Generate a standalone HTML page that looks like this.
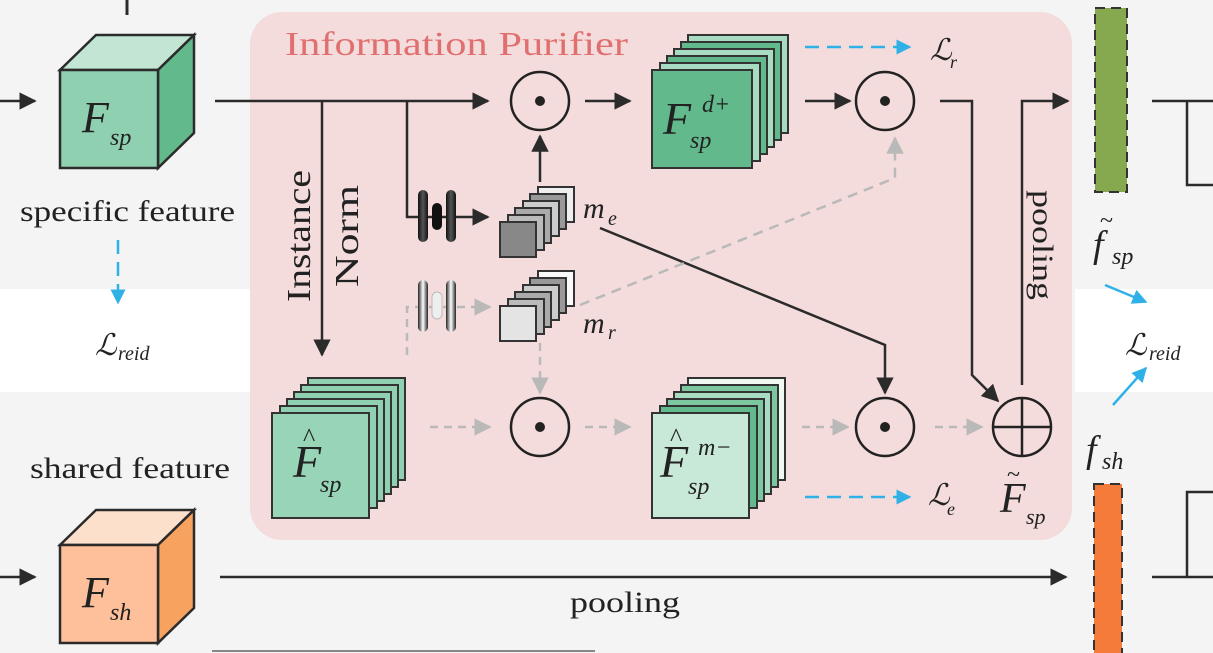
<!DOCTYPE html>
<html><head><meta charset="utf-8"><style>
html,body{margin:0;padding:0;background:#f4f4f4;}
svg{display:block;}
text{font-family:"Liberation Serif",serif;fill:#222;}
.it{font-style:italic;}
</style></head><body>
<svg width="1213" height="653" viewBox="0 0 1213 653" xmlns="http://www.w3.org/2000/svg">
<defs>
<marker id="ab" viewBox="0 0 10 10" refX="9" refY="5" markerWidth="7" markerHeight="7" orient="auto-start-reverse"><path d="M0,0 L10,5 L0,10 z" fill="#2b2b2b"/></marker>
<marker id="ag" viewBox="0 0 10 10" refX="9" refY="5" markerWidth="7" markerHeight="7" orient="auto"><path d="M0,0 L10,5 L0,10 z" fill="#b9b9b9"/></marker>
<marker id="abl" viewBox="0 0 10 10" refX="9" refY="5" markerWidth="6" markerHeight="6" orient="auto"><path d="M0,0 L10,5 L0,10 z" fill="#2fb0e6"/></marker>
<linearGradient id="pill" x1="0" x2="1"><stop offset="0" stop-color="#111"/><stop offset=".5" stop-color="#555"/><stop offset="1" stop-color="#111"/></linearGradient>
<linearGradient id="pillw" x1="0" x2="1"><stop offset="0" stop-color="#222"/><stop offset=".5" stop-color="#fff"/><stop offset="1" stop-color="#222"/></linearGradient>
</defs>
<rect width="1213" height="653" fill="#f4f4f4"/>
<rect x="0" y="289" width="250" height="103" fill="#fff"/>
<rect x="1075" y="289" width="138" height="103" fill="#fff"/>
<rect x="250" y="12" width="822" height="528" rx="32" fill="#f4dcdc"/>
<text x="285" y="55" font-size="34" textLength="343" lengthAdjust="spacingAndGlyphs" style="fill:#e07070">Information Purifier</text>

<line x1="127" y1="0" x2="127" y2="15" stroke="#2b2b2b" stroke-width="3"/>
<line x1="0" y1="101" x2="35" y2="101" stroke="#2b2b2b" stroke-width="2.5" marker-end="url(#ab)"/>
<polygon points="60,70 96,35 194,35 158,70" fill="#c3e6d4" stroke="#2b2b2b" stroke-width="2.5"/>
<polygon points="158,70 194,35 194,133 158,168" fill="#62b98b" stroke="#2b2b2b" stroke-width="2.5"/>
<rect x="60" y="70" width="98" height="98" fill="#8fd0b0" stroke="#2b2b2b" stroke-width="2.5"/>
<text x="82" y="132" font-size="44" class="it">F</text><text x="110" y="145" font-size="24" class="it">sp</text>
<text x="20" y="221" font-size="30" textLength="215" lengthAdjust="spacingAndGlyphs">specific feature</text>
<line x1="118" y1="240" x2="118" y2="303" stroke="#2fb0e6" stroke-width="2.5" stroke-dasharray="14,8" marker-end="url(#abl)"/>
<text x="95" y="355" font-size="30" class="it">ℒ</text><text x="118" y="360" font-size="20" class="it">reid</text>

<line x1="215" y1="101" x2="488" y2="101" stroke="#2b2b2b" stroke-width="2.5" marker-end="url(#ab)"/>
<line x1="322" y1="101" x2="322" y2="355" stroke="#2b2b2b" stroke-width="2.5" marker-end="url(#ab)"/>
<text transform="translate(310,302) rotate(-90)" font-size="34" textLength="132" lengthAdjust="spacingAndGlyphs">Instance</text>
<text transform="translate(358,287) rotate(-90)" font-size="34" textLength="102" lengthAdjust="spacingAndGlyphs">Norm</text>
<polyline points="407,101 407,217 488,217" fill="none" stroke="#2b2b2b" stroke-width="2.5" marker-end="url(#ab)"/>
<rect x="418" y="190" width="10" height="52" rx="5" fill="url(#pill)"/>
<rect x="432" y="203" width="10" height="27" rx="5" fill="#111"/>
<rect x="446" y="190" width="10" height="52" rx="5" fill="url(#pill)"/>
<polyline points="407,355 407,307 490,307" fill="none" stroke="#b9b9b9" stroke-width="2.5" stroke-dasharray="8,6" marker-end="url(#ag)"/>
<rect x="418" y="280" width="10" height="52" rx="5" fill="url(#pillw)"/>
<rect x="432" y="292" width="10" height="27" rx="5" fill="#eee" stroke="#bbb"/>
<rect x="446" y="280" width="10" height="52" rx="5" fill="url(#pillw)"/>

<g stroke="#333" stroke-width="2">
<rect x="538" y="187" width="36" height="35" fill="#eee"/>
<rect x="530" y="194" width="36" height="35" fill="#999"/>
<rect x="523" y="201" width="36" height="35" fill="#ccc"/>
<rect x="515" y="208" width="36" height="35" fill="#aaa"/>
<rect x="508" y="215" width="36" height="35" fill="#bbb"/>
<rect x="500" y="222" width="36" height="35" fill="#888"/>
</g>
<text x="583" y="218" font-size="30" class="it">m</text><text x="608" y="225" font-size="20" class="it">e</text>
<g stroke="#333" stroke-width="2">
<rect x="538" y="271" width="36" height="35" fill="#fafafa"/>
<rect x="530" y="278" width="36" height="35" fill="#999"/>
<rect x="523" y="285" width="36" height="35" fill="#ccc"/>
<rect x="515" y="292" width="36" height="35" fill="#aaa"/>
<rect x="508" y="299" width="36" height="35" fill="#bbb"/>
<rect x="500" y="306" width="36" height="35" fill="#e4e4e4"/>
</g>
<text x="583" y="333" font-size="30" class="it">m</text><text x="608" y="339" font-size="20" class="it">r</text>

<line x1="540" y1="182" x2="540" y2="136" stroke="#2b2b2b" stroke-width="2.5" marker-end="url(#ab)"/>
<line x1="540" y1="343" x2="540" y2="393" stroke="#b9b9b9" stroke-width="2.5" stroke-dasharray="8,6" marker-end="url(#ag)"/>

<g fill="none" stroke="#222" stroke-width="2.5">
<circle cx="540" cy="101" r="29"/><circle cx="885" cy="101" r="29"/>
<circle cx="540" cy="427" r="29"/><circle cx="885" cy="427" r="29"/>
<circle cx="1022" cy="427" r="29"/>
</g>
<g fill="#222"><circle cx="540" cy="101" r="5"/><circle cx="885" cy="101" r="5"/><circle cx="540" cy="427" r="5"/><circle cx="885" cy="427" r="5"/></g>
<line x1="993" y1="427" x2="1051" y2="427" stroke="#222" stroke-width="2.5"/>
<line x1="1022" y1="398" x2="1022" y2="456" stroke="#222" stroke-width="2.5"/>

<line x1="585" y1="101" x2="630" y2="101" stroke="#2b2b2b" stroke-width="2.5" marker-end="url(#ab)"/>
<g stroke="#333" stroke-width="2">
<rect x="688" y="35" width="100" height="98" fill="#a8dcc2"/>
<rect x="681" y="42" width="100" height="98" fill="#62b98b"/>
<rect x="674" y="49" width="100" height="98" fill="#a8dcc2"/>
<rect x="667" y="56" width="100" height="98" fill="#62b98b"/>
<rect x="660" y="63" width="100" height="98" fill="#a8dcc2"/>
<rect x="652" y="70" width="100" height="98" fill="#62b98b"/>
</g>
<text x="663" y="134" font-size="46" class="it">F</text><text x="690" y="148" font-size="24" class="it">sp</text><text x="702" y="112" font-size="24" class="it">d+</text>

<line x1="805" y1="47" x2="910" y2="47" stroke="#2fb0e6" stroke-width="2.5" stroke-dasharray="14,8" marker-end="url(#abl)"/>
<text x="930" y="60" font-size="30" class="it">ℒ</text><text x="950" y="68" font-size="18" class="it">r</text>
<line x1="805" y1="101" x2="850" y2="101" stroke="#2b2b2b" stroke-width="2.5" marker-end="url(#ab)"/>

<polyline points="600,228 885,345 885,393" fill="none" stroke="#2b2b2b" stroke-width="2.5" marker-end="url(#ab)"/>
<polyline points="580,305 895,178 895,138" fill="none" stroke="#b9b9b9" stroke-width="2.5" stroke-dasharray="10,7" marker-end="url(#ag)"/>

<polyline points="940,101 972,101 972,375 998,401" fill="none" stroke="#2b2b2b" stroke-width="2.5" marker-end="url(#ab)"/>
<polyline points="1022,385 1022,101 1068,101" fill="none" stroke="#2b2b2b" stroke-width="2.5" marker-end="url(#ab)"/>
<text transform="translate(1033,190) rotate(90)" font-size="30" textLength="110" lengthAdjust="spacingAndGlyphs">pooling</text>

<g stroke="#333" stroke-width="2">
<rect x="308" y="378" width="97" height="102" fill="#8fd0b0"/>
<rect x="301" y="385" width="97" height="102" fill="#8fd0b0"/>
<rect x="294" y="392" width="97" height="102" fill="#8fd0b0"/>
<rect x="287" y="399" width="97" height="102" fill="#8fd0b0"/>
<rect x="280" y="406" width="97" height="102" fill="#8fd0b0"/>
<rect x="272" y="413" width="97" height="105" fill="#98d4b6"/>
</g>
<text x="293" y="477" font-size="46" class="it">F</text><text x="303" y="446" font-size="26">^</text><text x="320" y="492" font-size="24" class="it">sp</text>

<g stroke="#333" stroke-width="2">
<rect x="688" y="378" width="97" height="102" fill="#f0f8f2"/>
<rect x="681" y="385" width="97" height="102" fill="#7dc7a0"/>
<rect x="674" y="392" width="97" height="102" fill="#a8dcc2"/>
<rect x="667" y="399" width="97" height="102" fill="#7dc7a0"/>
<rect x="660" y="406" width="97" height="102" fill="#62b98b"/>
<rect x="652" y="413" width="97" height="105" fill="#c8e8d8"/>
</g>
<text x="660" y="477" font-size="46" class="it">F</text><text x="670" y="446" font-size="26">^</text><text x="688" y="494" font-size="24" class="it">sp</text><text x="698" y="455" font-size="24" class="it">m−</text>

<g stroke="#b9b9b9" stroke-width="2.5" stroke-dasharray="8,6" fill="none">
<line x1="430" y1="427" x2="490" y2="427" marker-end="url(#ag)"/>
<line x1="585" y1="427" x2="630" y2="427" marker-end="url(#ag)"/>
<line x1="802" y1="427" x2="848" y2="427" marker-end="url(#ag)"/>
<line x1="935" y1="427" x2="982" y2="427" marker-end="url(#ag)"/>
</g>
<line x1="805" y1="497" x2="910" y2="497" stroke="#2fb0e6" stroke-width="2.5" stroke-dasharray="14,8" marker-end="url(#abl)"/>
<text x="928" y="505" font-size="30" class="it">ℒ</text><text x="947" y="515" font-size="18" class="it">e</text>
<text x="1000" y="512" font-size="42" class="it">F</text><text x="1007" y="482" font-size="24">~</text><text x="1026" y="524" font-size="22" class="it">sp</text>

<rect x="1095" y="8" width="32" height="184" fill="#86a94f" stroke="#333" stroke-width="2" stroke-dasharray="10,6"/>
<text x="1093" y="257" font-size="38" class="it">f</text><text x="1100" y="228" font-size="24">~</text><text x="1112" y="264" font-size="24" class="it">sp</text>
<rect x="1094" y="484" width="28" height="175" fill="#f47b3a" stroke="#333" stroke-width="2" stroke-dasharray="10,6"/>
<text x="1086" y="462" font-size="38" class="it">f</text><text x="1102" y="469" font-size="24" class="it">sh</text>
<text x="1125" y="355" font-size="30" class="it">ℒ</text><text x="1149" y="360" font-size="20" class="it">reid</text>
<line x1="1105" y1="285" x2="1146" y2="302" stroke="#2fb0e6" stroke-width="2.5" marker-end="url(#abl)"/>
<line x1="1113" y1="405" x2="1146" y2="368" stroke="#2fb0e6" stroke-width="2.5" marker-end="url(#abl)"/>
<polyline points="1152,101 1213,101" fill="none" stroke="#2b2b2b" stroke-width="2.5"/>
<polyline points="1187,101 1187,185 1213,185" fill="none" stroke="#2b2b2b" stroke-width="2.5"/>
<polyline points="1152,577 1213,577" fill="none" stroke="#2b2b2b" stroke-width="2.5"/>
<polyline points="1187,577 1187,492 1213,492" fill="none" stroke="#2b2b2b" stroke-width="2.5"/>

<text x="30" y="478" font-size="30" textLength="200" lengthAdjust="spacingAndGlyphs">shared feature</text>
<line x1="0" y1="577" x2="35" y2="577" stroke="#2b2b2b" stroke-width="2.5" marker-end="url(#ab)"/>
<polygon points="60,545 96,510 194,510 158,545" fill="#fde0cc" stroke="#2b2b2b" stroke-width="2.5"/>
<polygon points="158,545 194,510 194,608 158,643" fill="#f7a25e" stroke="#2b2b2b" stroke-width="2.5"/>
<rect x="60" y="545" width="98" height="98" fill="#fdc09a" stroke="#2b2b2b" stroke-width="2.5"/>
<text x="82" y="607" font-size="44" class="it">F</text><text x="110" y="620" font-size="24" class="it">sh</text>
<line x1="220" y1="577" x2="1066" y2="577" stroke="#2b2b2b" stroke-width="2.5" marker-end="url(#ab)"/>
<text x="570" y="612" font-size="30" textLength="110" lengthAdjust="spacingAndGlyphs">pooling</text>
<line x1="212" y1="651" x2="595" y2="651" stroke="#888" stroke-width="2"/>
</svg>
</body></html>
